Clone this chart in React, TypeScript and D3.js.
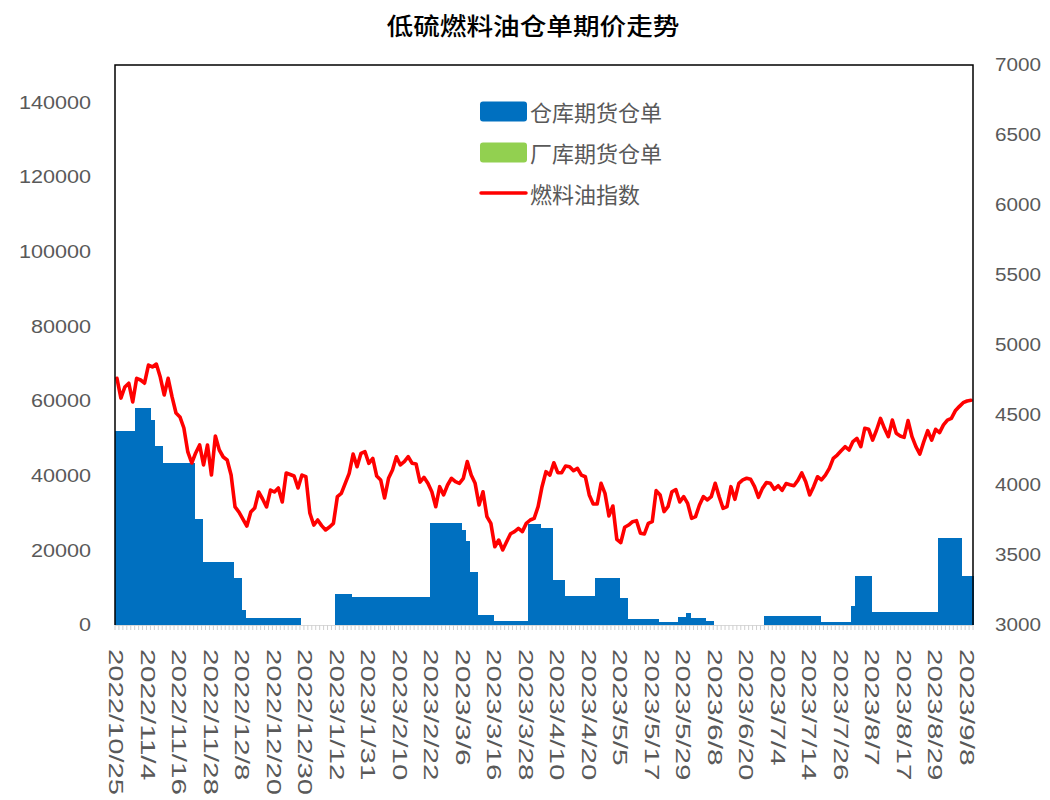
import React from 'react';
import * as d3 from 'd3';

const title = '低硫燃料油仓单期价走势';
const legendNames = ['仓库期货仓单', '厂库期货仓单', '燃料油指数'];

const tickLabels = [
  '2022/10/25', '2022/11/4', '2022/11/16', '2022/11/28', '2022/12/8', '2022/12/20', '2022/12/30',
  '2023/1/12', '2023/1/31', '2023/2/10', '2023/2/22', '2023/3/6', '2023/3/16', '2023/3/28',
  '2023/4/10', '2023/4/20', '2023/5/5', '2023/5/17', '2023/5/29', '2023/6/8', '2023/6/20',
  '2023/7/4', '2023/7/14', '2023/7/26', '2023/8/7', '2023/8/17', '2023/8/29', '2023/9/8',
];
const tickStep = 8;

const leftTicks = [0, 20000, 40000, 60000, 80000, 100000, 120000, 140000];
const rightTicks = [3000, 3500, 4000, 4500, 5000, 5500, 6000, 6500, 7000];

// 仓库期货仓单 (daily)
const warehouseReceipts = [
  52000, 52000, 52000, 52000, 52000, 58000, 58000, 58000, 58000, 55000,
  48000, 48000, 43300, 43300, 43300, 43300, 43300, 43300, 43300, 43300,
  28300, 28300, 17000, 17000, 17000, 17000, 17000, 17000, 17000, 17000,
  12500, 12500, 4000, 1800, 1800, 1800, 1800, 1800, 1800, 1800,
  1800, 1800, 1800, 1800, 1800, 1800, 1800, 0, 0, 0,
  0, 0, 0, 0, 0, 0, 8300, 8300, 8300, 8300,
  7600, 7600, 7600, 7600, 7600, 7600, 7600, 7600, 7600, 7600,
  7600, 7600, 7600, 7600, 7600, 7600, 7600, 7600, 7600, 7600,
  27400, 27400, 27400, 27400, 27400, 27400, 27400, 27400, 25400, 22600,
  14300, 14300, 2700, 2700, 2700, 2700, 1200, 1200, 1200, 1200,
  1200, 1200, 1200, 1200, 1200, 27000, 27000, 27000, 26000, 26000,
  26000, 12000, 12000, 12000, 7900, 7900, 7900, 7900, 7900, 7900,
  7900, 7900, 12700, 12700, 12700, 12700, 12700, 12700, 7100, 7100,
  1500, 1500, 1500, 1500, 1500, 1500, 1500, 1500, 800, 800,
  800, 800, 800, 2200, 2200, 3300, 2000, 2000, 2000, 2000,
  1200, 1200, 0, 0, 0, 0, 0, 0, 0, 0,
  0, 0, 0, 0, 0, 2500, 2500, 2500, 2500, 2500,
  2500, 2500, 2500, 2500, 2500, 2500, 2500, 2500, 2500, 700,
  700, 700, 700, 700, 700, 700, 700, 5200, 13100, 13100,
  13100, 13100, 3400, 3400, 3400, 3400, 3400, 3400, 3400, 3400,
  3400, 3400, 3400, 3400, 3400, 3400, 3400, 3400, 3400, 23200,
  23200, 23200, 23200, 23200, 23200, 13100, 13100, 13100,
];

// 厂库期货仓单: no visible bars in the reference
const factoryReceipts: number[] = [];

// 燃料油指数 (daily)
const fuelIndex = [
  4762, 4621, 4700, 4727, 4593, 4762, 4750, 4727, 4857, 4843,
  4864, 4771, 4643, 4762, 4629, 4514, 4486, 4407, 4236, 4157,
  4229, 4286, 4143, 4286, 4071, 4350, 4250, 4200, 4179, 4071,
  3843, 3807, 3757, 3707, 3807, 3836, 3950, 3900, 3843, 3964,
  3950, 3979, 3879, 4086, 4075, 4064, 3979, 4071, 4060, 3800,
  3714, 3750, 3710, 3679, 3700, 3726, 3917, 3940, 4012, 4083,
  4221, 4131, 4226, 4238, 4155, 4190, 4064, 4036, 3907, 4048,
  4107, 4202, 4143, 4167, 4202, 4155, 4150, 4021, 4055, 4012,
  3952, 3845, 3988, 3929, 4000, 4048, 4024, 4012, 4048, 4167,
  4071, 4012, 3857, 3952, 3774, 3726, 3559, 3607, 3536, 3595,
  3652, 3667, 3690, 3667, 3726, 3750, 3762, 3845, 3988, 4095,
  4071, 4159, 4088, 4088, 4136, 4131, 4102, 4119, 4071, 4059,
  3929, 3864, 3864, 4012, 3940, 3779, 3850, 3612, 3588, 3698,
  3714, 3738, 3745, 3655, 3650, 3726, 3738, 3960, 3929, 3810,
  3845, 3952, 3967, 3879, 3917, 3869, 3762, 3774, 3857, 3917,
  3893, 3917, 4012, 3917, 3833, 3845, 3988, 3898, 4012, 4036,
  4048, 4041, 3988, 3912, 3976, 4017, 4012, 3969, 3995, 3962,
  4010, 4002, 3995, 4033, 4086, 4024, 3929, 3988, 4059, 4036,
  4071, 4119, 4190, 4214, 4245, 4274, 4250, 4310, 4333, 4274,
  4405, 4398, 4321, 4393, 4476, 4405, 4345, 4464, 4369, 4350,
  4340, 4460, 4345, 4274, 4221, 4310, 4388, 4321, 4398, 4374,
  4429, 4464, 4476, 4530, 4560, 4588, 4600, 4605,
];

const W = 1050;
const H = 800;
const plot = { left: 115, right: 973, top: 65, bottom: 625 };
const BLUE = '#0070C0';
const GREEN = '#92D050';
const RED = '#FF0000';
const AXIS_TEXT = '#595959';
const NUM_FONT = '"Liberation Sans", Arial, sans-serif';
const CJK_FONT = '"Noto Sans CJK SC", "Noto Sans", sans-serif';

export default function App() {
  const n = fuelIndex.length;
  const idx = d3.range(n);
  const x = d3.scaleBand<number>().domain(idx).range([plot.left, plot.right]).padding(0);
  const bw = x.bandwidth();
  const yL = d3.scaleLinear().domain([0, 150000]).range([plot.bottom, plot.top]);
  const yR = d3.scaleLinear().domain([3000, 7000]).range([plot.bottom, plot.top]);

  const line = d3
    .line<number>()
    .x((_, i) => (x(i) as number) + bw / 2)
    .y((d) => yR(d));

  return (
    <svg
      width={W}
      height={H}
      style={{ position: 'absolute', left: 0, top: 0, display: 'block', background: '#fff' }}
    >
      <rect x={0} y={0} width={W} height={H} fill="#fff" />
      {/* title */}
      <text
        transform={`translate(533,25) scale(1.11,1)`}
        textAnchor="middle"
        dominantBaseline="central"
        fontSize={24}
        fontWeight={500}
        fontFamily={CJK_FONT}
        fill="#000"
      >
        {title}
      </text>

      {/* bars */}
      <g shapeRendering="crispEdges">
        {warehouseReceipts.map((v, i) =>
          v > 0 ? (
            <rect
              key={'w' + i}
              x={x(i) as number}
              y={yL(v)}
              width={bw + 1}
              height={yL(0) - yL(v)}
              fill={BLUE}
            />
          ) : null
        )}
        {factoryReceipts.map((v, i) =>
          v > 0 ? (
            <rect
              key={'f' + i}
              x={x(i) as number}
              y={yL(v + (warehouseReceipts[i] || 0))}
              width={bw + 1}
              height={yL(0) - yL(v)}
              fill={GREEN}
            />
          ) : null
        )}
      </g>

      {/* line */}
      <path
        d={line(fuelIndex) || ''}
        fill="none"
        stroke={RED}
        strokeWidth={3.6}
        strokeLinejoin="round"
        strokeLinecap="round"
      />

      {/* frame */}
      <path
        d={`M${plot.left},${plot.bottom} V${plot.top} H${plot.right} V${plot.bottom}`}
        fill="none"
        stroke="#000"
        strokeWidth={1.5}
      />
      {/* x axis */}
      <line x1={plot.left} x2={plot.right} y1={plot.bottom + 0.5} y2={plot.bottom + 0.5} stroke="#d9d9d9" strokeWidth={1} />
      {d3.range(n + 1).map((i) => {
        const xx = i < n ? (x(i) as number) : plot.right;
        return <line key={'t' + i} x1={xx} x2={xx} y1={plot.bottom} y2={plot.bottom + 5} stroke="#d0d0d0" strokeWidth={1} />;
      })}

      {/* x tick labels */}
      {tickLabels.map((lab, k) => {
        const i = k * tickStep;
        const cx = (x(i) as number) + bw / 2;
        return (
          <text
            key={'xl' + k}
            transform={`translate(${cx},649) rotate(90) scale(1,1.16)`}
            textAnchor="start"
            dominantBaseline="central"
            fontSize={18}
            fontFamily={NUM_FONT}
            fill={AXIS_TEXT}
            textLength={lab.length * 14.6}
            lengthAdjust="spacingAndGlyphs"
          >
            {lab}
          </text>
        );
      })}

      {/* left axis labels */}
      {leftTicks.map((v) => (
        <text
          key={'l' + v}
          transform={`translate(91,${yL(v)}) scale(1.2,1)`}
          textAnchor="end"
          dominantBaseline="central"
          fontSize={18}
          fontFamily={NUM_FONT}
          fill={AXIS_TEXT}
        >
          {v}
        </text>
      ))}

      {/* right axis labels */}
      {rightTicks.map((v) => (
        <text
          key={'r' + v}
          transform={`translate(995,${yR(v)}) scale(1.15,1)`}
          textAnchor="start"
          dominantBaseline="central"
          fontSize={18}
          fontFamily={NUM_FONT}
          fill={AXIS_TEXT}
        >
          {v}
        </text>
      ))}

      {/* legend */}
      <g>
        <rect x={480} y={101.5} width={47} height={20} rx={3} fill={BLUE} />
        <text x={530} y={111} dominantBaseline="central" fontSize={22} fontFamily={CJK_FONT} fill={AXIS_TEXT}>
          {legendNames[0]}
        </text>
        <rect x={480} y={142.5} width={47} height={20} rx={3} fill={GREEN} />
        <text x={530} y={152} dominantBaseline="central" fontSize={22} fontFamily={CJK_FONT} fill={AXIS_TEXT}>
          {legendNames[1]}
        </text>
        <line x1={481} x2={526} y1={193} y2={193} stroke={RED} strokeWidth={3.5} strokeLinecap="round" />
        <text x={530} y={193} dominantBaseline="central" fontSize={22} fontFamily={CJK_FONT} fill={AXIS_TEXT}>
          {legendNames[2]}
        </text>
      </g>
    </svg>
  );
}
